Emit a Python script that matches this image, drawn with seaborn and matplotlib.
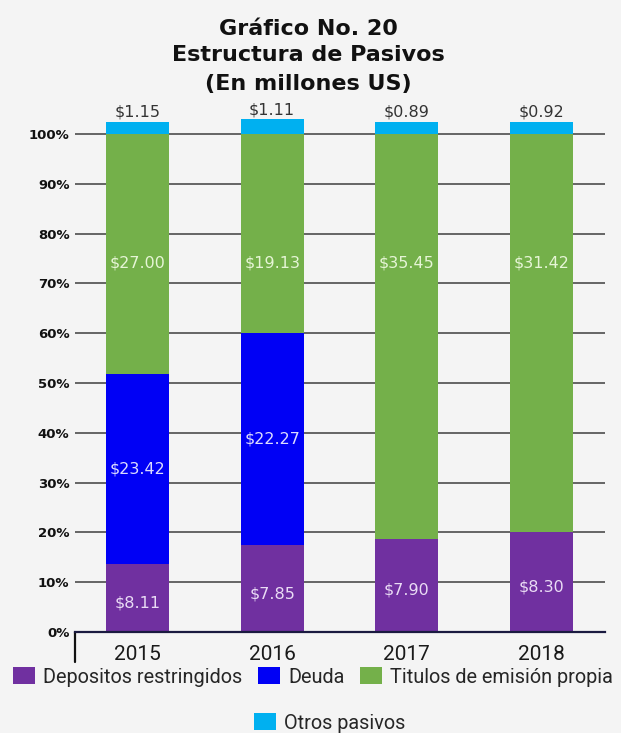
import matplotlib
matplotlib.use("Agg")
import matplotlib.pyplot as plt
import seaborn as sns
import pandas as pd
from matplotlib.patches import Patch

# ---------------- data ----------------
years = ["2015", "2016", "2017", "2018"]
# segment heights as drawn (percent of axis)
dep_pct = [13.6, 17.4, 18.7, 20.0]
deuda_pct = [38.3, 42.6, 0.0, 0.0]
tit_pct = [48.1, 40.0, 81.3, 80.0]
otros_pct = [2.4, 3.0, 2.4, 2.4]
# value labels (millones US$)
dep_val = [8.11, 7.85, 7.90, 8.30]
deuda_val = [23.42, 22.27, None, None]
tit_val = [27.00, 19.13, 35.45, 31.42]
otros_val = [1.15, 1.11, 0.89, 0.92]
series_names = ["Depositos restringidos", "Deuda", "Titulos de emisión propia", "Otros pasivos"]
yticks = [0, 10, 20, 30, 40, 50, 60, 70, 80, 90, 100]
title_lines = ["Gráfico No. 20", "Estructura de Pasivos", "(En millones US)"]

colors = ["#7030a0", "#0000f5", "#74b04a", "#00b0f0"]
BG = "#f4f4f4"

sns.set_theme(style="white")
plt.rcParams["font.family"] = ["DejaVu Sans"]

fig = plt.figure(figsize=(6.21, 7.33), dpi=100, facecolor=BG)
ax = fig.add_axes([75 / 621, (733 - 632) / 733, 530 / 621, (632 - 119) / 733])
ax.set_facecolor(BG)

df = pd.DataFrame({"year": years, "dep": dep_pct, "deuda": deuda_pct,
                   "tit": tit_pct, "otros": otros_pct})
df["c1"] = df["dep"]
df["c2"] = df["c1"] + df["deuda"]
df["c3"] = df["c2"] + df["tit"]
df["c4"] = df["c3"] + df["otros"]

bw = 0.468
for col, c in zip(["c4", "c3", "c2", "c1"], colors[::-1]):
    sns.barplot(data=df, x="year", y=col, color=c, width=bw, ax=ax,
                saturation=1, linewidth=0, zorder=3)

ax.set_xlim(-0.464, 3.471)
ax.set_ylim(0, 103)
ax.set_yticks(yticks)
ax.set_yticklabels([f"{v}%" for v in yticks], fontsize=9.5, fontweight="bold", color="#111111")
ax.set_xlabel("")
ax.set_ylabel("")
ax.tick_params(axis="y", length=0, pad=4)
ax.tick_params(axis="x", length=0, pad=9, labelsize=15, labelcolor="#1a1a1a")
for lab in ax.get_xticklabels():
    lab.set_family("Roboto")

for v in yticks[1:]:
    ax.axhline(v, color="#5a5a5a", lw=1.3, zorder=1)

for s in ["top", "right", "left"]:
    ax.spines[s].set_visible(False)
ax.spines["bottom"].set_color("#1a1a40")
ax.spines["bottom"].set_linewidth(1.6)
ax.spines["bottom"].set_zorder(4)
ax.plot([-0.464, -0.464], [0, -6], color="#111111", lw=1.6, clip_on=False)

# value labels
lab_kw = dict(ha="center", va="center", fontsize=11.5, zorder=5)
for i in range(len(years)):
    ax.text(i, df["c1"][i] / 2 - 1, f"${dep_val[i]:.2f}", color="#eadcf5", **lab_kw)
    if deuda_val[i] is not None:
        ax.text(i, (df["c1"][i] + df["c2"][i]) / 2, f"${deuda_val[i]:.2f}", color="#dcdcff", **lab_kw)
    ax.text(i, 74, f"${tit_val[i]:.2f}", color="#e6f5d6", **lab_kw)
    ax.text(i, df["c4"][i] + 0.4, f"${otros_val[i]:.2f}", color="#333333",
            ha="center", va="bottom", fontsize=11.5, zorder=5, clip_on=False)

# title (three lines, baselines at 35, 61, 90 px)
for txt, yb in zip(title_lines, [35, 61, 90]):
    fig.text(0.497, 1 - yb / 733, txt, ha="center", va="baseline",
             fontsize=16, fontweight="bold", color="#111111")

# legends
handles = [Patch(facecolor=c, edgecolor="none") for c in colors]
fig.legend(handles[:3], series_names[:3], loc="center", ncol=3,
           bbox_to_anchor=(0.504, 1 - 677 / 733), frameon=False,
           prop={"family": "Roboto", "size": 14.3}, handlelength=1.1,
           handleheight=0.9, handletextpad=0.4, columnspacing=0.8)
fig.legend(handles[3:], series_names[3:], loc="center", ncol=1,
           bbox_to_anchor=(0.531, 1 - 723 / 733), frameon=False,
           prop={"family": "Roboto", "size": 14.3}, handlelength=1.1,
           handleheight=0.9, handletextpad=0.4)

fig.savefig("out.png", dpi=100, facecolor=BG)
